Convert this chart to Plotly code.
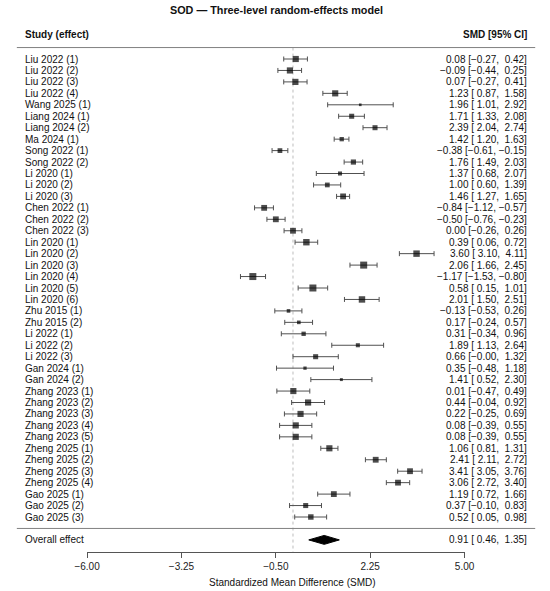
import plotly.graph_objects as go

# Studier (effekter), SMD och 95% KI
studies = [
    "Liu 2022 (1)", "Liu 2022 (2)", "Liu 2022 (3)", "Liu 2022 (4)",
    "Wang 2025 (1)", "Liang 2024 (1)", "Liang 2024 (2)", "Ma 2024 (1)",
    "Song 2022 (1)", "Song 2022 (2)", "Li 2020 (1)", "Li 2020 (2)",
    "Li 2020 (3)", "Chen 2022 (1)", "Chen 2022 (2)", "Chen 2022 (3)",
    "Lin 2020 (1)", "Lin 2020 (2)", "Lin 2020 (3)", "Lin 2020 (4)",
    "Lin 2020 (5)", "Lin 2020 (6)", "Zhu 2015 (1)", "Zhu 2015 (2)",
    "Li 2022 (1)", "Li 2022 (2)", "Li 2022 (3)", "Gan 2024 (1)",
    "Gan 2024 (2)", "Zhang 2023 (1)", "Zhang 2023 (2)", "Zhang 2023 (3)",
    "Zhang 2023 (4)", "Zhang 2023 (5)", "Zheng 2025 (1)", "Zheng 2025 (2)",
    "Zheng 2025 (3)", "Zheng 2025 (4)", "Gao 2025 (1)", "Gao 2025 (2)",
    "Gao 2025 (3)",
]
smd = [0.08, -0.09, 0.07, 1.23, 1.96, 1.71, 2.39, 1.42, -0.38, 1.76,
       1.37, 1.00, 1.46, -0.84, -0.50, 0.00, 0.39, 3.60, 2.06, -1.17,
       0.58, 2.01, -0.13, 0.17, 0.31, 1.89, 0.66, 0.35, 1.41, 0.01,
       0.44, 0.22, 0.08, 0.08, 1.06, 2.41, 3.41, 3.06, 1.19, 0.37, 0.52]
ci_low = [-0.27, -0.44, -0.27, 0.87, 1.01, 1.33, 2.04, 1.20, -0.61, 1.49,
          0.68, 0.60, 1.27, -1.12, -0.76, -0.26, 0.06, 3.10, 1.66, -1.53,
          0.15, 1.50, -0.53, -0.24, -0.34, 1.13, -0.0, -0.48, 0.52, -0.47,
          -0.04, -0.25, -0.39, -0.39, 0.81, 2.11, 3.05, 2.72, 0.72, -0.10, 0.05]
ci_high = [0.42, 0.25, 0.41, 1.58, 2.92, 2.08, 2.74, 1.63, -0.15, 2.03,
           2.07, 1.39, 1.65, -0.57, -0.23, 0.26, 0.72, 4.11, 2.45, -0.80,
           1.01, 2.51, 0.26, 0.57, 0.96, 2.64, 1.32, 1.18, 2.30, 0.49,
           0.92, 0.69, 0.55, 0.55, 1.31, 2.72, 3.76, 3.40, 1.66, 0.83, 0.98]
# relativ vikt (styr rutornas storlek)
rel_weight = [0.88, 0.88, 0.88, 0.88, 0.38, 0.72, 0.72, 0.62, 0.68, 0.74,
              0.58, 0.68, 0.83, 0.83, 0.83, 0.83, 0.92, 0.92, 1.0, 1.0,
              1.0, 0.92, 0.52, 0.52, 0.62, 0.58, 0.72, 0.47, 0.42, 0.88,
              0.88, 0.88, 0.88, 0.88, 0.88, 0.83, 0.83, 0.83, 0.83, 0.72, 0.78]

overall = {"est": 0.91, "lo": 0.46, "hi": 1.35}
tick_vals = [-6.00, -3.25, -0.50, 2.25, 5.00]

FONT = "Liberation Sans, Arial, sans-serif"
MINUS = "\u2212"


def fmt(v, w=0):
    s = f"{v:{w}.2f}".replace("-", MINUS)
    return s.replace(" ", "\u00a0")


def ci_text(e, lo, hi):
    return f"{fmt(e)} [{fmt(lo, 5)},\u00a0{fmt(hi, 5)}]"


k = len(studies)
rows = list(range(k))
row_overall = k + 1
y_top = -5.153
y_bottom = 43.057

fig = go.Figure()

# Konfidensintervall (under rutorna)
fig.add_trace(go.Scatter(
    x=smd, y=rows, mode="markers",
    marker=dict(size=0.1, color="rgba(0,0,0,0)"),
    error_x=dict(type="data", symmetric=False,
                 array=[h - e for h, e in zip(ci_high, smd)],
                 arrayminus=[e - l for e, l in zip(smd, ci_low)],
                 color="#505050", thickness=1, width=2.5),
    cliponaxis=False, hoverinfo="skip", showlegend=False,
))

# Punktskattningar
fig.add_trace(go.Scatter(
    x=smd, y=rows, mode="markers",
    marker=dict(symbol="square", color="black",
                size=[7.0 * w for w in rel_weight], line=dict(width=0)),
    cliponaxis=False, hoverinfo="skip", showlegend=False,
))

# Sammanvägd effekt (diamant)
h = 0.39
fig.add_trace(go.Scatter(
    x=[overall["lo"], overall["est"], overall["hi"], overall["est"], overall["lo"]],
    y=[row_overall, row_overall - h, row_overall, row_overall + h, row_overall],
    mode="lines", fill="toself", fillcolor="black",
    line=dict(color="black", width=1), hoverinfo="skip", showlegend=False,
))

# Referenslinje vid 0
fig.add_shape(type="line", xref="x", yref="y", x0=0, x1=0, y0=-1, y1=y_bottom,
              line=dict(color="#bdbdbd", width=1, dash="dot"), layer="below")

# Horisontella avgränsare
for yy in [-1, k]:
    fig.add_shape(type="line", xref="paper", yref="y", x0=4 / 550, x1=545 / 550,
                  y0=yy, y1=yy, line=dict(color="#808080", width=1))

annotations = []
x_left = 10 / 550
x_right = 538 / 550
for i, name in enumerate(studies):
    annotations.append(dict(x=x_left, y=i, xref="paper", yref="y", text=name,
                            xanchor="left", yanchor="middle", showarrow=False))
    annotations.append(dict(x=x_right, y=i, xref="paper", yref="y",
                            text=ci_text(smd[i], ci_low[i], ci_high[i]),
                            xanchor="right", yanchor="middle", showarrow=False))

annotations += [
    dict(x=x_left, y=row_overall, xref="paper", yref="y", text="Overall effect",
         xanchor="left", yanchor="middle", showarrow=False),
    dict(x=x_right, y=row_overall, xref="paper", yref="y",
         text=ci_text(overall["est"], overall["lo"], overall["hi"]),
         xanchor="right", yanchor="middle", showarrow=False),
    dict(x=x_left, y=-2.15, xref="paper", yref="y", text="<b>Study (effect)</b>",
         xanchor="left", yanchor="middle", showarrow=False),
    dict(x=x_right, y=-2.15, xref="paper", yref="y", text="<b>SMD [95% CI]</b>",
         xanchor="right", yanchor="middle", showarrow=False),
    dict(x=0.5, y=-4.3, xref="paper", yref="y",
         text="<b>SOD \u2014 Three-level random-effects model</b>",
         xanchor="center", yanchor="middle", showarrow=False,
         font=dict(size=10.8)),
    dict(x=292 / 550, y=-30 / 552, xref="paper", yref="paper",
         text="Standardized Mean Difference (SMD)",
         xanchor="center", yanchor="middle", showarrow=False),
]

fig.update_layout(
    width=550, height=591,
    margin=dict(l=0, r=0, t=0, b=39),
    paper_bgcolor="white", plot_bgcolor="white",
    font=dict(family=FONT, size=10, color="#111111"),
    annotations=annotations,
    showlegend=False,
    hovermode=False,
    xaxis=dict(domain=[77.3 / 550, 471.3 / 550], range=[-6, 5],
               showgrid=False, zeroline=False, showline=True,
               linecolor="#555555", linewidth=1,
               ticks="outside", ticklen=5, tickcolor="#555555",
               tickvals=tick_vals, ticktext=[fmt(v) for v in tick_vals],
               tickfont=dict(size=10, color="#222222")),
    yaxis=dict(range=[y_bottom, y_top], visible=False, showgrid=False,
               zeroline=False),
)

# sidans standardmarginal tas bort så att figuren ligger i hörnet
fig.write_html("out.html",
               config={"displayModeBar": False, "staticPlot": True},
               post_script="document.body.style.margin='0';"
                           "document.body.style.overflow='hidden';")
